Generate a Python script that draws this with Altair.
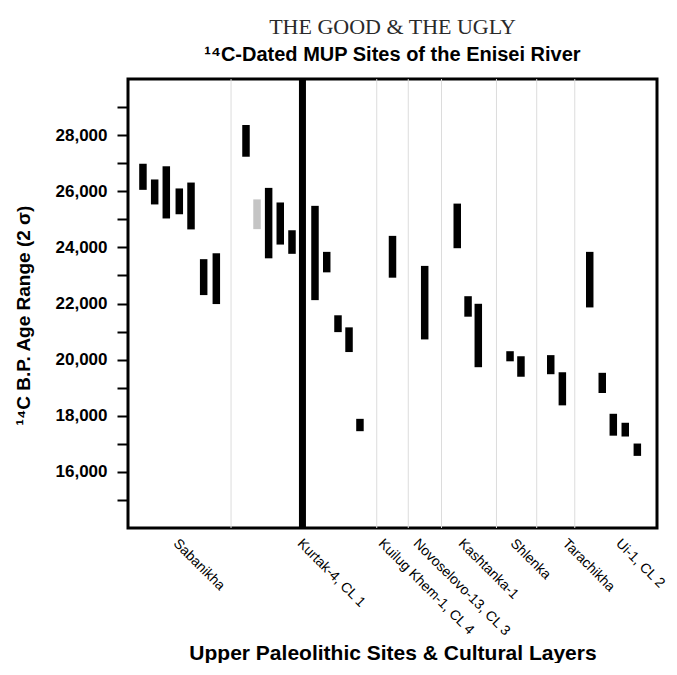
import altair as alt
import pandas as pd

# ---- data ----
bar_pos = [1.30, 2.32, 3.33, 4.46, 5.48, 6.58, 7.68,
           10.26, 11.22, 12.23, 13.24, 14.26,
           16.26, 17.28, 18.26, 19.22, 20.17,
           23.00,
           25.80,
           28.63, 29.57, 30.46,
           33.22, 34.17,
           36.76, 37.77,
           40.15, 41.24, 42.20, 43.24, 44.29]
bar_low = [26050, 25530, 25030, 25180, 24640, 22300, 21980,
           27230, 24650, 23610, 24100, 23770,
           22120, 23110, 20980, 20270, 17450,
           22920,
           20720,
           23970, 21530, 19730,
           19940, 19390,
           19480, 18370,
           21860, 18810, 17290, 17260, 16570]
bar_high = [26980, 26420, 26890, 26100, 26310, 23580, 23790,
            28360, 25710, 26120, 25600, 24610,
            25480, 23840, 21580, 21150, 17890,
            24410,
            23340,
            25560, 22260, 21990,
            20300, 20120,
            20160, 19550,
            23840, 19530, 18070, 17750, 17010]
bar_kind = ["good"] * 8 + ["ugly"] + ["good"] * 22

separator_pos = [8.96, 21.63, 24.37, 27.26, 32.04, 35.54, 38.85]
divider_pos = [15.17]

site_names = ["Sabanikha", "Kurtak-4, CL 1", "Kuilug Khem-1, CL 4",
              "Novoselovo-13, CL 3", "Kashtanka-1", "Shlenka",
              "Tarachikha", "Ui-1, CL 2"]
site_label_pos = [4.52, 15.30, 22.35, 25.39, 29.30, 33.83, 38.35, 43.0]

y_tick_values = list(range(15000, 30000, 1000))

bars = pd.DataFrame({"pos": bar_pos, "low": bar_low, "high": bar_high, "kind": bar_kind})
seps = pd.DataFrame({"pos": separator_pos})
divs = pd.DataFrame({"pos": divider_pos})

FONT = "Liberation Sans"

names_js = "[" + ",".join("'" + n + "'" for n in site_names) + "]"
pos_js = "[" + ",".join(repr(p) for p in site_label_pos) + "]"

x_axis = alt.Axis(
    values=site_label_pos,
    labelExpr=f"{names_js}[indexof({pos_js}, datum.value)]",
    ticks=False, domain=False, grid=False,
    labelAngle=45, labelAlign="left", labelBaseline="top",
    labelFont=FONT, labelFontSize=14, labelColor="black",
    labelPadding=8, labelOverlap=False, labelBound=False, labelFlush=False,
    title="Upper Paleolithic Sites & Cultural Layers",
    titleFont=FONT, titleFontSize=21, titleFontWeight="bold", titleColor="black",
    titleBaseline="alphabetic", titleY=131,
)
x_scale = alt.Scale(domain=[0, 46], nice=False, zero=False)

y_axis = alt.Axis(
    values=y_tick_values,
    labelExpr="datum.value % 2000 == 0 ? format(datum.value, ',') : ''",
    tickSize=11, tickWidth=2, tickColor="black",
    domain=False, grid=False,
    labelFont=FONT, labelFontSize=17, labelFontWeight="bold", labelColor="black",
    labelPadding=10,
    title="¹⁴C B.P. Age Range (2 σ)",
    titleFont=FONT, titleFontSize=19, titleFontWeight="bold", titleColor="black",
    titleBaseline="alphabetic", titleX=-99, titleY=236,
)
y_scale = alt.Scale(domain=[14000, 30000], nice=False, zero=False)

sep_layer = alt.Chart(seps).mark_rule(color="#dcdcdc", strokeWidth=1).encode(
    x=alt.X("pos:Q", scale=x_scale, axis=x_axis),
)
div_layer = alt.Chart(divs).mark_rule(color="black", strokeWidth=7).encode(
    x=alt.X("pos:Q", scale=x_scale, axis=x_axis),
)
bar_layer = alt.Chart(bars).mark_rule(strokeWidth=7.5, strokeCap="butt").encode(
    x=alt.X("pos:Q", scale=x_scale, axis=x_axis),
    y=alt.Y("low:Q", scale=y_scale, axis=y_axis),
    y2="high:Q",
    color=alt.Color("kind:N", scale=alt.Scale(domain=["good", "ugly"], range=["black", "#c4c4c4"]), legend=None),
)

chart = alt.layer(sep_layer, div_layer, bar_layer).properties(
    width=529, height=449,
    autosize=alt.AutoSizeParams(type="none"),
    padding={"left": 120, "top": 71, "right": 12, "bottom": 135},
    title=alt.TitleParams(
        text="THE GOOD & THE UGLY",
        subtitle="¹⁴C-Dated MUP Sites of the Enisei River",
        font="Liberation Serif", fontSize=22, fontWeight="normal", color="#2a2a2a",
        subtitleFont=FONT, subtitleFontSize=20, subtitleFontWeight="bold", subtitleColor="black",
        anchor="middle", offset=10, subtitlePadding=6,
    ),
).configure(background="white").configure_view(stroke="black", strokeWidth=3)

chart.save("out.html", embed_options={"renderer": "svg", "actions": False})
